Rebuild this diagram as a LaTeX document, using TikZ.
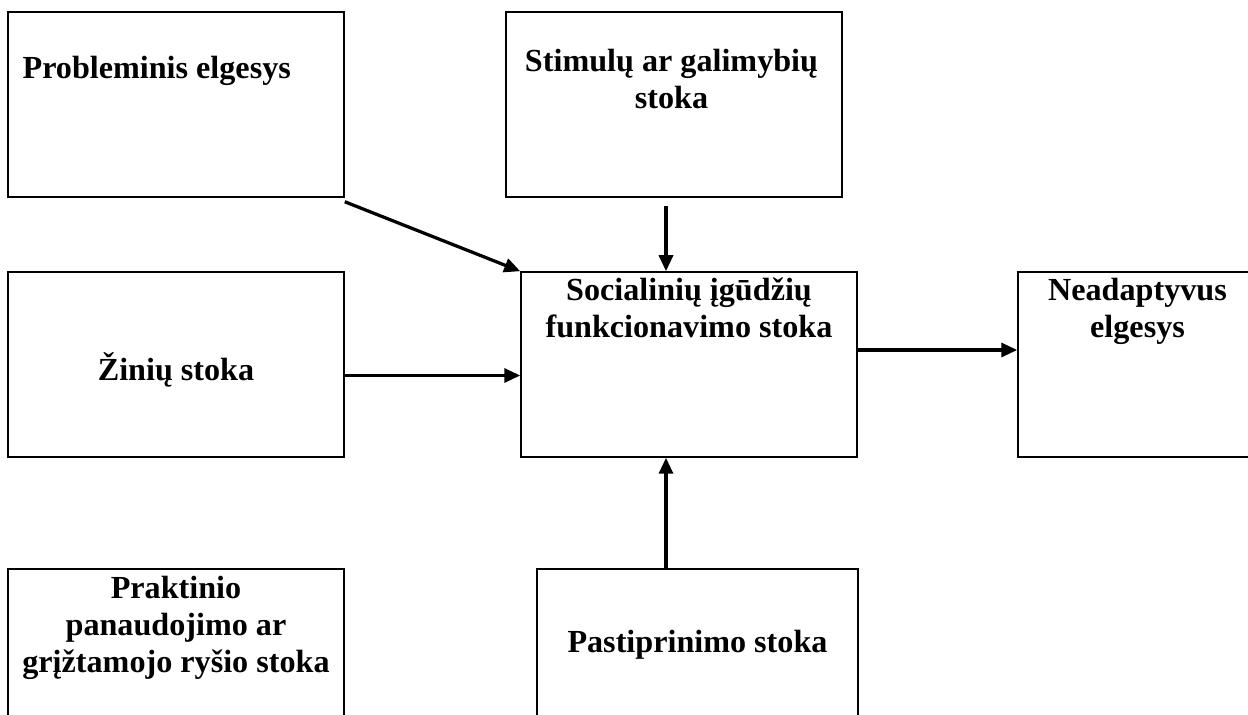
\documentclass[tikz,border=0pt]{standalone}
\usepackage{fontspec}
\setmainfont{Liberation Serif}
\usetikzlibrary{arrows.meta,positioning}

\tikzset{
  box/.style={draw, line width=0.3mm, minimum width=6.72cm, minimum height=3.7cm, inner sep=0pt},
  txt/.style={font=\bfseries\fontsize{18.3}{21}\selectfont, align=center, inner sep=0pt},
  arr/.style={line width=0.65mm, -{Triangle[length=3.2mm,width=2.8mm]}}
}

\begin{document}
\begin{tikzpicture}[scale=1]

    % Fix the page size
    \useasboundingbox (0,0) rectangle (24.96,-14.3);

    % Draw the boxes
    \node[box] (P) at (3.52,-2.09) {};
    \node[box] (S) at (13.48,-2.09) {};
    \node[box] (Z) at (3.52,-7.29) {};
    \node[box] (C) at (13.78,-7.29) {};
    \node[box, minimum width=4.78cm] (N) at (22.75,-7.29) {};
    \node[box, minimum height=3.62cm] (Pr) at (3.52,-13.19) {};
    \node[box, minimum width=6.42cm, minimum height=3.62cm] (Pa) at (13.95,-13.19) {};

    % Add the texts inside the boxes (base = last line)
    \node[txt, anchor=base west] (P-t) at ([xshift=3mm, yshift=-13.4mm]P.north west) {Probleminis elgesys};
    \node[txt, anchor=base] (S-t) at ([xshift=-0.5mm, yshift=-19.4mm]S.north) {Stimulų ar galimybių\\stoka};
    \node[txt, anchor=base] (C-t) at ([yshift=-13.2mm]C.north) {Socialinių įgūdžių\\funkcionavimo stoka};
    \node[txt, anchor=base] (N-t) at ([yshift=-13.2mm]N.north) {Neadaptyvus\\elgesys};
    \node[txt, anchor=base] (Z-t) at ([yshift=-21.8mm]Z.north) {Žinių stoka};
    \node[txt, anchor=base] (Pr-t) at ([yshift=-20.8mm]Pr.north) {Praktinio\\panaudojimo ar\\grįžtamojo ryšio stoka};
    \node[txt, anchor=base] (Pa-t) at ([yshift=-16.8mm]Pa.north) {Pastiprinimo stoka};

    % Start points of the arrows
    \coordinate (s0) at ([xshift=-1.6mm, yshift=-1.6mm]S.south);
    \coordinate (z0) at ([yshift=-2.2mm]Z.east);
    \coordinate (c0) at ([yshift=2.9mm]C.east);
    \coordinate (p0) at ([xshift=-6.3mm]Pa.north);

    % Draw the arrows
    \draw[arr] ([yshift=-0.8mm]P.south east) -- (C.north west);
    \draw[arr] (s0) -- (s0 |- C.north);
    \draw[arr] (z0) -- (z0 -| C.west);
    \draw[arr] (c0) -- (c0 -| N.west);
    \draw[arr] (p0) -- (p0 |- C.south);

\end{tikzpicture}
\end{document}
